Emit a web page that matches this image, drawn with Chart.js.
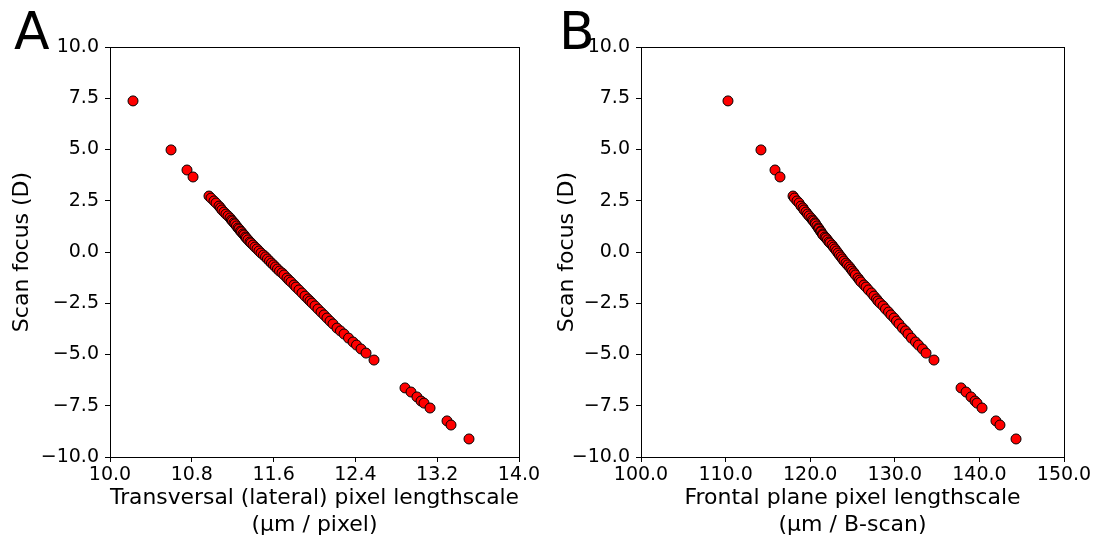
<!DOCTYPE html>
<html>
<head>
<meta charset="utf-8">
<script src="https://cdn.jsdelivr.net/npm/chart.js@4"></script>
<style>
  html, body { margin: 0; padding: 0; background: #fff; }
  body { width: 1098px; height: 538px; position: relative; overflow: hidden; font-family: "DejaVu Sans", sans-serif; }
  .panel { position: absolute; top: 0; width: 549px; height: 538px; }
  .letter { position: absolute; top: 1px; font-size: 52px; color: #000; }
</style>
</head>
<body>
<div class="panel" style="left:0"><canvas id="chartA"></canvas></div>
<div class="panel" style="left:549px"><canvas id="chartB"></canvas></div>
<div class="letter" style="left:14px">A</div>
<div class="letter" style="left:559px">B</div>
<script>
// Scan focus (D), shared by both panels
const focus = [
  7.37, 4.98, 4.00, 3.66,
  2.73, 2.63, 2.49, 2.39, 2.24, 2.15, 2.05, 1.95, 1.85, 1.76, 1.66, 1.56, 1.51, 1.42, 1.37, 1.27,
  1.17, 1.12, 1.02, 0.98, 0.88, 0.83, 0.73, 0.68, 0.59, 0.49, 0.44, 0.34, 0.24, 0.15, 0.05,
  -0.05, -0.15, -0.24, -0.34, -0.44, -0.54, -0.63, -0.73, -0.83, -0.93, -1.02, -1.12, -1.27,
  -1.37, -1.46, -1.61, -1.71, -1.85, -2.00, -2.15, -2.29, -2.39, -2.49, -2.63, -2.78, -2.93,
  -3.07, -3.22, -3.37, -3.51, -3.71, -3.85, -4.00, -4.20, -4.39, -4.54, -4.73, -4.93, -5.27,
  -6.63, -6.83, -7.07, -7.27, -7.37, -7.61, -8.24, -8.44, -9.12
];

// Transversal (lateral) pixel lengthscale (um / pixel)
const lateral = [
  10.225, 10.597, 10.753, 10.812,
  10.968, 10.988, 11.017, 11.037, 11.066, 11.081, 11.095, 11.115, 11.134, 11.154, 11.174, 11.188, 11.198, 11.213, 11.222, 11.237,
  11.252, 11.262, 11.276, 11.286, 11.301, 11.311, 11.325, 11.335, 11.350, 11.369, 11.379, 11.399, 11.418, 11.438, 11.457,
  11.477, 11.501, 11.521, 11.540, 11.560, 11.579, 11.599, 11.618, 11.638, 11.658, 11.682, 11.702, 11.731,
  11.750, 11.770, 11.800, 11.819, 11.848, 11.878, 11.907, 11.936, 11.956, 11.976, 12.005, 12.034, 12.064,
  12.093, 12.122, 12.152, 12.181, 12.220, 12.254, 12.289, 12.333, 12.377, 12.411, 12.455, 12.504, 12.582,
  12.885, 12.944, 13.002, 13.042, 13.071, 13.130, 13.296, 13.335, 13.511
];

// Frontal plane pixel lengthscale (um / B-scan)
const frontal = [
  110.28, 114.18, 115.84, 116.43,
  117.97, 118.14, 118.44, 118.68, 118.91, 119.15, 119.27, 119.50, 119.68, 119.86, 120.09, 120.27, 120.39, 120.57, 120.63, 120.80,
  120.98, 121.04, 121.22, 121.28, 121.45, 121.51, 121.75, 121.87, 122.04, 122.22, 122.34, 122.58, 122.75, 122.93, 123.11,
  123.29, 123.46, 123.64, 123.82, 124.00, 124.23, 124.41, 124.65, 124.82, 125.00, 125.18, 125.35, 125.65,
  125.83, 126.00, 126.36, 126.60, 126.89, 127.25, 127.54, 127.84, 128.01, 128.25, 128.61, 128.90, 129.26,
  129.55, 129.91, 130.20, 130.50, 130.91, 131.27, 131.56, 131.97, 132.45, 132.80, 133.27, 133.69, 134.63,
  137.83, 138.42, 139.01, 139.48, 139.72, 140.31, 141.96, 142.43, 144.33
];

// Tick labels
const yTicks = [-10, -7.5, -5, -2.5, 0, 2.5, 5, 7.5, 10];
const lateralTicks = [10.0, 10.8, 11.6, 12.4, 13.2, 14.0];
const frontalTicks = [100, 110, 120, 130, 140, 150];

const FONT = 'DejaVu Sans';

// one decimal, with a real minus sign like matplotlib
const fmt = v => {
  const s = Math.abs(v).toFixed(1);
  return v < 0 ? '\u2212' + s : s;
};

// Draw the full box round the plot area
const frameBox = {
  id: 'frameBox',
  afterDraw(chart) {
    const {ctx, chartArea: a} = chart;
    ctx.save();
    ctx.strokeStyle = '#000';
    ctx.lineWidth = 1;
    ctx.strokeRect(Math.round(a.left) + 0.5, Math.round(a.top) + 0.5,
      Math.round(a.right - a.left), Math.round(a.bottom - a.top));
    ctx.restore();
  }
};

function makeChart(canvasId, xs, xTicks, xMin, xMax, xTitle, area) {
  const points = xs.map((x, i) => ({x, y: focus[i]}));
  return new Chart(document.getElementById(canvasId), {
    type: 'scatter',
    data: {
      datasets: [{
        data: points,
        backgroundColor: '#ff0000',
        borderColor: '#000000',
        borderWidth: 1,
        pointRadius: 5,
        pointHoverRadius: 5
      }]
    },
    options: {
      responsive: true,
      maintainAspectRatio: false,
      animation: false,
      events: [],
      layout: { padding: { left: 0, top: area.top, right: area.right, bottom: 0 } },
      plugins: { legend: { display: false }, tooltip: { enabled: false } },
      scales: {
        x: {
          type: 'linear',
          min: xMin,
          max: xMax,
          afterBuildTicks: s => { s.ticks = xTicks.map(v => ({value: v})); },
          afterFit: s => { s.height = area.xHeight; },
          grid: { drawOnChartArea: false, drawTicks: true, tickLength: 5, color: '#000' },
          border: { display: true, color: '#000' },
          ticks: {
            color: '#000',
            font: { family: FONT, size: 19 },
            padding: 2,
            maxRotation: 0,
            autoSkip: false,
            callback: v => fmt(v)
          },
          title: {
            display: true,
            text: xTitle,
            color: '#000',
            font: { family: FONT, size: 22, lineHeight: 1.2 },
            padding: { top: 0, bottom: 0 }
          }
        },
        y: {
          type: 'linear',
          min: -10,
          max: 10,
          afterBuildTicks: s => { s.ticks = yTicks.map(v => ({value: v})); },
          afterFit: s => { s.width = area.yWidth; },
          grid: { drawOnChartArea: false, drawTicks: true, tickLength: 5, color: '#000' },
          border: { display: true, color: '#000' },
          ticks: {
            color: '#000',
            font: { family: FONT, size: 19 },
            padding: 6,
            autoSkip: false,
            callback: v => fmt(v)
          },
          title: {
            display: true,
            text: 'Scan focus (D)',
            color: '#000',
            font: { family: FONT, size: 22, lineHeight: 1.2 },
            padding: { top: area.yTitlePad, bottom: 0 }
          }
        }
      }
    },
    plugins: [frameBox]
  });
}

makeChart('chartA', lateral, lateralTicks, 10, 14,
  ['Transversal (lateral) pixel lengthscale', '(μm / pixel)'],
  { top: 47, right: 30, xHeight: 81, yWidth: 110, yTitlePad: 9 });

makeChart('chartB', frontal, frontalTicks, 100, 150,
  ['Frontal plane pixel lengthscale', '(μm / B-scan)'],
  { top: 47, right: 34, xHeight: 81, yWidth: 92, yTitlePad: 5 });
</script>
</body>
</html>
